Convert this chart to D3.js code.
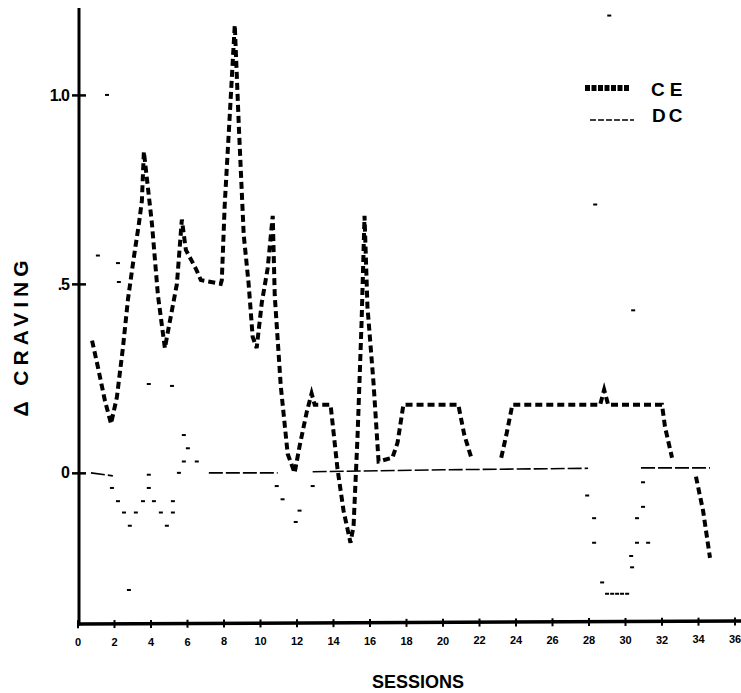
<!DOCTYPE html>
<html>
<head>
<meta charset="utf-8">
<script src="https://cdn.jsdelivr.net/npm/d3@7"></script>
<style>
  html, body { margin: 0; padding: 0; background: #fff; }
  svg { display: block; }
  text { font-family: "Liberation Sans", Arial, Helvetica, sans-serif; fill: #000; }
</style>
</head>
<body>
<svg id="chart" width="741" height="693"></svg>
<script>
// ---------- DATA ----------
const xTickValues = [0,2,4,6,8,10,12,14,16,18,20,22,24,26,28,30,32,34,36];
const yTickValues = [0, 0.5, 1.0];
const yTickLabels = ["0", ".5", "1.0"];
const seriesNames = ["CE", "DC"];

// CE (thick dashed trace): session positions and delta craving
const ceSessions = [0.77,1.09,1.48,1.81,2.13,2.46,2.74,3.06,3.34,3.50,3.61,4.05,4.38,4.76,5.03,5.42,5.69,5.91,6.46,6.73,7.82,7.88,8.04,8.32,8.59,8.81,9.08,9.35,9.57,9.79,10.07,10.39,10.67,10.78,11.11,11.49,11.87,12.14,12.53,12.80,12.97,13.84,14.22,14.55,14.93,15.10,15.32,15.54,15.70,15.86,16.19,16.47,17.23,17.51,17.83,20.84,21.17,21.55,null,23.19,23.47,23.80,28.61,28.83,29.05,32.00,32.17,32.55,null,33.86,34.25,34.63];
const ceValues   = [0.35,0.28,0.19,0.13,0.20,0.33,0.46,0.57,0.66,0.72,0.85,0.66,0.47,0.33,0.40,0.50,0.67,0.59,0.54,0.51,0.50,0.51,0.71,0.95,1.185,0.92,0.63,0.50,0.36,0.33,0.45,0.54,0.68,0.47,0.23,0.05,0.00,0.07,0.16,0.21,0.18,0.18,0.01,-0.10,-0.185,-0.14,0.10,0.40,0.68,0.44,0.24,0.03,0.04,0.08,0.18,0.18,0.10,0.04,null,0.04,0.10,0.18,0.18,0.22,0.18,0.18,0.12,0.04,null,-0.01,-0.10,-0.225];

// DC flat (near-zero) runs, drawn as thin dashed line; null breaks runs
const dcLineSessions = [0.71,1.91,null,7.17,10.94,null,12.86,20.0,27.95,null,30.85,34.63];
const dcLineValues   = [0.0,-0.008,null,0.0,0.0,null,0.003,0.008,0.012,null,0.013,0.013];

// DC isolated plotted points (steep parts print only as specks)
const dcPointSessions = [1.86,2.19,2.52,2.84,3.17,3.56,3.88,3.88,4.16,4.54,4.87,5.20,5.20,5.53,5.80,6.02,5.80,6.51,
  10.89,11.21,11.93,12.14,12.86,
  27.90,28.28,28.28,28.72,28.99,29.27,29.54,29.81,30.09,30.36,30.31,30.63,31.24,30.63,30.96,30.96,
  1.09,2.19,2.24,3.88,5.15,2.79,1.59,28.34,29.11,30.42];
const dcPointValues   = [-0.04,-0.075,-0.105,-0.14,-0.105,-0.075,-0.04,-0.005,-0.075,-0.105,-0.14,-0.105,-0.075,0.0,0.03,0.065,0.10,0.03,
  -0.035,-0.07,-0.13,-0.10,-0.035,
  -0.06,-0.12,-0.185,-0.29,-0.32,-0.32,-0.32,-0.32,-0.32,-0.25,-0.22,-0.185,-0.185,-0.12,-0.09,-0.025,
  0.575,0.555,0.505,0.235,0.23,-0.31,1.0,0.71,1.21,0.43];

// ---------- LAYOUT ----------
const svg = d3.select("#chart");
const x = d3.scaleLinear().domain([0, 36]).range([78, 735]);
const y = d3.scaleLinear().domain([-0.4, 1.23]).range([624, 8]);

// axes
const axisY = y(-0.4);
svg.append("line").attr("x1", 79).attr("x2", 79).attr("y1", 8).attr("y2", axisY + 1.5)
  .attr("stroke", "#000").attr("stroke-width", 3);
svg.append("line").attr("x1", 78).attr("x2", 741).attr("y1", axisY).attr("y2", axisY - 3)
  .attr("stroke", "#000").attr("stroke-width", 3.5);

const xAxis = svg.append("g").attr("transform", `translate(0,${axisY})`)
  .call(d3.axisBottom(x).tickValues(xTickValues).tickFormat(d3.format("d")).tickSize(5).tickPadding(9));
xAxis.select(".domain").remove();
xAxis.selectAll(".tick").attr("transform", d => `translate(${x(d)},${-3 * x(d) / 741 + 0.5})`);
xAxis.selectAll(".tick line").attr("y1", -4).attr("y2", 4).attr("stroke", "#000").attr("stroke-width", 2);
xAxis.selectAll(".tick text").attr("font-size", 11).attr("font-weight", "bold")
  .attr("font-family", "'Liberation Sans Narrow','DejaVu Sans Condensed','Liberation Sans',sans-serif")
  .attr("fill", "#000");

const yAxis = svg.append("g").attr("transform", "translate(79,0)")
  .call(d3.axisLeft(y).tickValues(yTickValues).tickFormat((d, i) => yTickLabels[i]).tickSize(7).tickPadding(3));
yAxis.select(".domain").remove();
yAxis.selectAll(".tick line").attr("x1", -7).attr("x2", 7).attr("stroke", "#000").attr("stroke-width", 2.5);
yAxis.selectAll(".tick text").attr("font-size", 16).attr("font-weight", "bold").attr("fill", "#000")
  .attr("letter-spacing", -1);

// axis titles
svg.append("text").attr("x", 418).attr("y", 688).attr("text-anchor", "middle")
  .attr("font-size", 18).attr("font-weight", "bold").text("SESSIONS");
svg.append("text").attr("transform", "translate(28,336) rotate(-90)").attr("text-anchor", "middle")
  .attr("font-size", 21).attr("font-weight", "bold").attr("letter-spacing", 5).text("\u0394 CRAVING");

// ---------- SERIES ----------
const ce = ceSessions.map((s, i) => ({ s, v: ceValues[i] }));
const ceLine = d3.line().defined(d => d.s !== null && d.v !== null)
  .x(d => x(d.s)).y(d => y(d.v));
svg.append("path").datum(ce).attr("d", ceLine)
  .attr("fill", "none").attr("stroke", "#000").attr("stroke-width", 4)
  .attr("stroke-dasharray", "7,4");

const dcl = dcLineSessions.map((s, i) => ({ s, v: dcLineValues[i] }));
svg.append("path").datum(dcl).attr("d", ceLine)
  .attr("fill", "none").attr("stroke", "#000").attr("stroke-width", 1.6)
  .attr("stroke-dasharray", "14,3");

const dcp = dcPointSessions.map((s, i) => ({ s, v: dcPointValues[i] }));
svg.append("g").selectAll("rect").data(dcp).join("rect")
  .attr("x", d => x(d.s) - 2).attr("y", d => y(d.v) - 1)
  .attr("width", 4).attr("height", 2).attr("fill", "#000");

// ---------- LEGEND ----------
const lg = svg.append("g");
lg.append("line").attr("x1", 585).attr("x2", 630).attr("y1", 88).attr("y2", 88)
  .attr("stroke", "#000").attr("stroke-width", 6).attr("stroke-dasharray", "5,1.5");
lg.append("text").attr("x", 651).attr("y", 96).attr("font-size", 19).attr("font-weight", "bold")
  .attr("letter-spacing", 5).text(seriesNames[0]);
lg.append("line").attr("x1", 590).attr("x2", 634).attr("y1", 120).attr("y2", 120)
  .attr("stroke", "#000").attr("stroke-width", 1.6).attr("stroke-dasharray", "6,2");
lg.append("text").attr("x", 652).attr("y", 122).attr("font-size", 19).attr("font-weight", "bold")
  .attr("letter-spacing", 3).text(seriesNames[1]);
</script>
</body>
</html>
